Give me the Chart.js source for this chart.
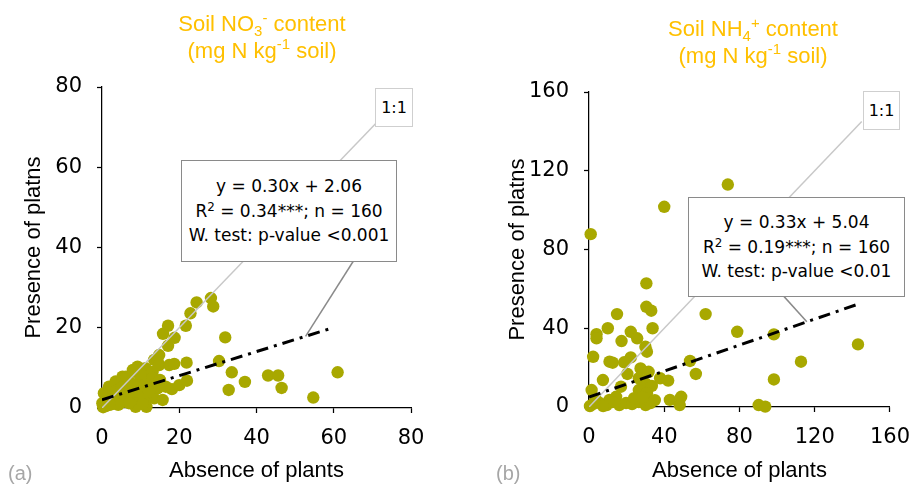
<!DOCTYPE html>
<html>
<head>
<meta charset="utf-8">
<script src="https://cdn.jsdelivr.net/npm/chart.js@4.4.1/dist/chart.umd.min.js"></script>
<style>
  html, body { margin: 0; padding: 0; background: #fff; }
  #wrap { position: relative; width: 923px; height: 489px; overflow: hidden; font-family: "Liberation Sans", Arial, sans-serif; }
  canvas { position: absolute; top: 0; }
  #chartNO3 { left: 0; }
  #chartNH4 { left: 460px; }
  .head { position: absolute; color: #FFC000; font-size: 22px; line-height: 26.5px; text-align: center; white-space: nowrap; transform: translateX(-50%); }
  .head sub, .head sup { font-size: 0.68em; line-height: 0; vertical-align: baseline; position: relative; }
  .head sub { top: 0.32em; }
  .head sup { top: -0.55em; }
  .eq { position: absolute; box-sizing: border-box; background: #fff; border: 1.5px solid #8a8a8a; font-family: "DejaVu Sans", sans-serif; font-size: 17px; line-height: 24.5px; text-align: center; color: #000; white-space: nowrap; }
  .eq sup { font-size: 0.7em; line-height: 0; vertical-align: baseline; position: relative; top: -0.5em; }
  .one { position: absolute; box-sizing: border-box; background: #fff; border: 1.5px solid #cfcfcf; font-family: "DejaVu Sans", sans-serif; font-size: 16px; color: #000; display: flex; align-items: center; justify-content: center; }
  .tag { position: absolute; color: #a6a6a6; font-size: 20px; line-height: 24px; }
</style>
</head>
<body>
<div id="wrap">
  <canvas id="chartNO3" width="460" height="489"></canvas>
  <canvas id="chartNH4" width="463" height="489"></canvas>

  <div class="head" style="left:262px; top:11px;">Soil NO<sub>3</sub><sup>-</sup> content<br>(mg N kg<sup>-1</sup> soil)</div>
  <div class="head" style="left:753px; top:16px;">Soil NH<sub>4</sub><sup>+</sup> content<br>(mg N kg<sup>-1</sup> soil)</div>

  <div class="one" style="left:375px; top:88px; width:38px; height:39px;">1:1</div>
  <div class="eq" style="left:181px; top:160px; width:216px; height:102px; padding-top:13px;">y = 0.30x + 2.06<br>R<sup>2</sup> = 0.34***; n = 160<br>W. test: p-value &lt;0.001</div>

  <div class="one" style="left:863px; top:91px; width:37px; height:39px;">1:1</div>
  <div class="eq" style="left:688px; top:197px; width:217px; height:100px; padding-top:12px;">y = 0.33x + 5.04<br>R<sup>2</sup> = 0.19***; n = 160<br>W. test: p-value &lt;0.01</div>

  <div class="tag" style="left:8px; top:461px;">(a)</div>
  <div class="tag" style="left:496px; top:461px;">(b)</div>
</div>

<script>
// Soil NO3- (mg N kg-1 soil): absence vs presence of plants
const no3Absence = [
  0.1, 0.5, 1.4, 1.8, 2.3, 3.1, 3.5, 4.0, 4.8, 5.3, 6.1, 6.6, 6.6, 7.5, 8.3, 8.3, 8.7, 9.2, 10.0, 10.0,
  10.9, 11.3, 11.5, 11.8, 12.6, 13.1, 13.5, 13.5, 14.4, 14.4, 14.8, 15.7, 16.5, 17.1, 17.1, 17.4, 15.8, 18.1, 18.7, 18.8,
  20.0, 21.7, 21.9, 22.0, 22.9, 24.5, 28.2, 28.8, 30.3, 31.9, 32.8, 33.6, 37.0, 43.0, 45.6, 46.5, 54.7, 61.0,
  1.0, 2.5, 0.3, 5.5, 7.0, 4.2, 9.5, 12.2, 8.0, 3.0, 11.8, 13.0, 15.0, 9.8, 6.2, 8.0, 14.8, 2.0, 5.0, 10.5
];
const no3Presence = [
  1.2, 3.7, 2.0, 5.3, 3.7, 2.4, 6.6, 4.5, 2.8, 7.8, 5.7, 3.7, 7.0, 4.9, 2.4, 9.0, 0.3, 10.3, 2.0, 7.8,
  5.7, 9.9, 0.3, 2.8, 6.1, 9.0, 2.4, 12.0, 4.9, 11.5, 10.7, 2.0, 5.3, 15.5, 20.5, 10.7, 18.5, 4.7, 11.0, 17.5,
  5.7, 20.5, 11.3, 6.8, 23.6, 26.3, 27.4, 25.3, 11.7, 17.6, 4.5, 8.9, 6.5, 8.1, 8.1, 5.0, 2.6, 8.9,
  0.5, 1.0, 0.2, 1.5, 1.2, 0.8, 4.0, 4.0, 6.0, 4.0, 7.5, 7.5, 7.0, 8.5, 7.8, 9.5, 13.2, 0.8, 5.0, 1.0
];
const no3Ticks = [0, 20, 40, 60, 80];
const no3Slope = 0.30, no3Intercept = 2.06, no3FitEnd = 60;

// Soil NH4+ (mg N kg-1 soil): absence vs presence of plants
const nh4Absence = [
  0.9, 40.0, 73.8, 30.5, 30.5, 33.1, 14.9, 62.0, 33.8, 10.0, 4.0, 4.0, 22.2, 25.6, 17.3, 30.0, 30.8, 2.2, 22.2, 10.9,
  12.6, 18.7, 53.7, 56.8, 20.4, 27.4, 31.7, 26.5, 7.4, 37.8, 42.1, 17.0, 30.0, 33.4, 26.5, 30.8, 1.4, 43.0, 49.0, 48.2,
  10.9, 14.4, 2.1, 5.7, 9.4, 12.5, 16.1, 19.7, 22.9, 26.5, 30.1, 32.7, 0.5, 3.5, 7.5, 24.0, 28.5, 35.0,
  78.8, 98.3, 143.0, 112.7, 98.3, 90.2, 93.7
];
const nh4Presence = [
  87.8, 101.7, 113.0, 62.8, 50.9, 48.9, 47.2, 47.2, 40.0, 40.0, 37.0, 34.9, 38.2, 34.9, 33.5, 30.6, 28.1, 25.5, 25.2, 23.0,
  22.5, 22.7, 23.4, 16.8, 16.8, 19.6, 17.9, 14.6, 13.7, 14.6, 13.4, 10.3, 12.0, 10.7, 8.6, 7.0, 8.6, 3.6, 5.2, 1.0,
  3.6, 5.2, 1.5, 2.0, 1.0, 2.5, 1.0, 2.0, 1.5, 2.5, 1.0, 2.0, 0.5, 4.0, 0.5, 4.5, 5.0, 3.5,
  38.2, 36.9, 31.8, 23.0, 14.0, 1.0, 0.2
];
const nh4Ticks = [0, 40, 80, 120, 160];
const nh4Slope = 0.33, nh4Intercept = 5.04, nh4FitEnd = 143;

const pointColor = '#A8A800';

function makePanel(canvasId, p) {
  const pts = p.absence.map((x, i) => ({ x, y: p.presence[i] }));
  const fit = [
    { x: 0, y: p.intercept },
    { x: p.fitEnd, y: p.slope * p.fitEnd + p.intercept }
  ];
  const leaderEnd = { x: p.leaderX, y: p.slope * p.leaderX + p.intercept };
  const tickFont = { family: 'DejaVu Sans', size: 21 };
  const titleFont = { family: 'Liberation Sans', size: 22 };
  return new Chart(document.getElementById(canvasId), {
    type: 'scatter',
    data: {
      datasets: [
        { type: 'line', data: fit, borderColor: '#000', borderWidth: 3, borderDash: [12, 6, 3, 6],
          pointRadius: 0, fill: false, tension: 0, order: 0 },
        { type: 'line', data: [{ x: 0, y: 0 }, { x: p.identityEnd, y: p.identityEnd }], borderColor: '#c8c8c8',
          borderWidth: 1.5, pointRadius: 0, fill: false, tension: 0, order: 1 },
        { type: 'line', data: [p.leaderStart, leaderEnd], borderColor: '#8a8a8a', borderWidth: 1.5,
          pointRadius: 0, fill: false, tension: 0, order: 2 },
        { data: pts, backgroundColor: pointColor, borderWidth: 0, pointRadius: 6.2, order: 3, clip: false }
      ]
    },
    options: {
      responsive: false,
      animation: false,
      events: [],
      layout: { padding: p.padding },
      plugins: { legend: { display: false }, tooltip: { enabled: false } },
      scales: {
        x: {
          type: 'linear', min: 0, max: p.max,
          afterBuildTicks: s => { s.ticks = p.ticks.map(v => ({ value: v })); },
          afterFit: s => { s.height = p.xAxisHeight; },
          ticks: { color: '#000', font: tickFont, padding: 13, maxRotation: 0 },
          grid: { drawOnChartArea: false, tickLength: 5, tickColor: '#000', tickWidth: 1.25 },
          border: { color: '#000', width: 1.25 },
          title: { display: true, text: 'Absence of plants', color: '#000', font: titleFont, padding: { top: 0, bottom: 5 } }
        },
        y: {
          type: 'linear', min: 0, max: p.max,
          afterBuildTicks: s => { s.ticks = p.ticks.map(v => ({ value: v })); },
          afterFit: s => { s.width = p.yAxisWidth; },
          ticks: { color: '#000', font: tickFont, padding: 15 },
          grid: { drawOnChartArea: false, tickLength: 5, tickColor: '#000', tickWidth: 1.25 },
          border: { color: '#000', width: 1.25 },
          title: { display: true, text: 'Presence of platns', color: '#000', font: titleFont, padding: { top: p.yTitlePad, bottom: 0 } }
        }
      }
    }
  });
}

makePanel('chartNO3', {
  absence: no3Absence, presence: no3Presence, ticks: no3Ticks, max: 80,
  slope: no3Slope, intercept: no3Intercept, fitEnd: no3FitEnd,
  identityEnd: 72, leaderStart: { x: 66, y: 38 }, leaderX: 52.7,
  padding: { top: 87, right: 49, bottom: 0, left: 0 },
  yAxisWidth: 102, xAxisHeight: 81, yTitlePad: 21
});

makePanel('chartNH4', {
  absence: nh4Absence, presence: nh4Presence, ticks: nh4Ticks, max: 160,
  slope: nh4Slope, intercept: nh4Intercept, fitEnd: nh4FitEnd,
  identityEnd: 145, leaderStart: { x: 100, y: 60 }, leaderX: 115.8,
  padding: { top: 92, right: 26, bottom: 0, left: 0 },
  yAxisWidth: 129, xAxisHeight: 82, yTitlePad: 45
});
</script>
</body>
</html>
